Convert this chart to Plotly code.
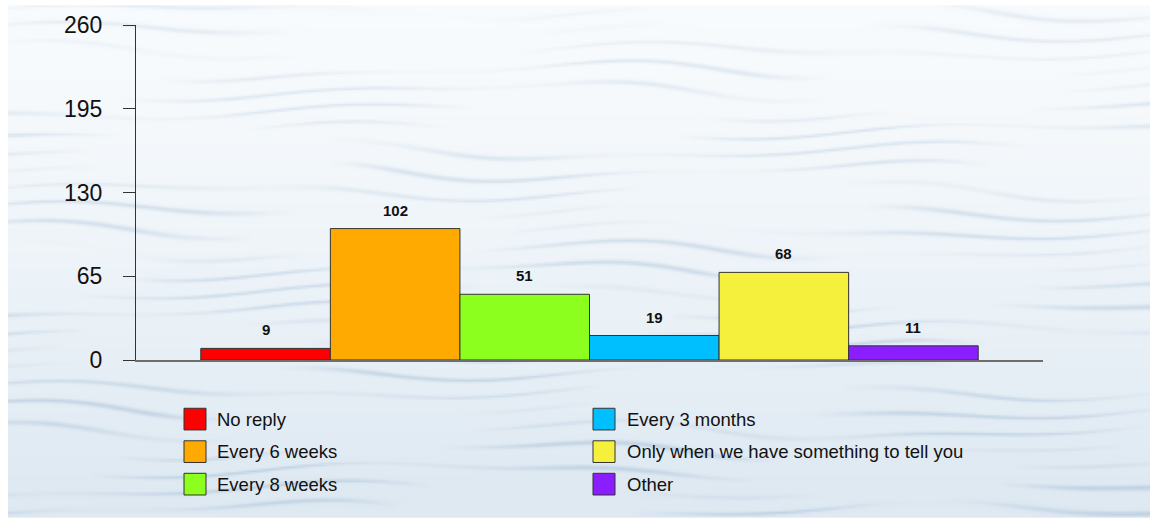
import base64
import struct
import zlib

import numpy as np
import plotly.graph_objects as go

# Survey answers: how often people want to hear from us
categories = ["No reply", "Every 6 weeks", "Every 8 weeks", "Every 3 months",
              "Only when we have something to tell you", "Other"]
counts = [9, 102, 51, 19, 68, 11]
colors = ["#FF0000", "#FFAA00", "#8CFF1E", "#00BFFF", "#F5F03C", "#8B1EFF"]
y_ticks = [0, 65, 130, 195, 260]

W, H = 1150, 523
M_L, M_R, M_T, M_B = 136, 107, 20, 163
PW, PH = W - M_L - M_R, H - M_T - M_B
FONT = "Arial, Liberation Sans, sans-serif"


def px_x(p):
    """Pixel column -> paper x."""
    return (p - M_L) / PW


def px_y(p):
    """Pixel row -> paper y."""
    return (H - M_B - p) / PH


def png_data_uri(rgb):
    h, w, _ = rgb.shape
    raw = b"".join(b"\x00" + rgb[r].tobytes() for r in range(h))

    def chunk(tag, data):
        return (struct.pack(">I", len(data)) + tag + data
                + struct.pack(">I", zlib.crc32(tag + data) & 0xFFFFFFFF))

    png = (b"\x89PNG\r\n\x1a\n"
           + chunk(b"IHDR", struct.pack(">IIBBBBB", w, h, 8, 2, 0, 0, 0))
           + chunk(b"IDAT", zlib.compress(raw, 9))
           + chunk(b"IEND", b""))
    return "data:image/png;base64," + base64.b64encode(png).decode()


# Pale water-like backdrop: light gradient with soft wavy horizontal streaks
tw, th = 571, 260
yy, xx = np.mgrid[0:th, 0:tw].astype(float)
t = yy / th
base_top = np.array([248, 251, 253], float)
base_bot = np.array([222, 233, 242], float)
ramp = np.clip(t * 1.1 - 0.05, 0, 1) ** 1.3
base = base_top * (1 - ramp[..., None]) + base_bot * ramp[..., None]
wave = np.sin(yy * 0.62 + 2.2 * np.sin(xx * 0.019 + yy * 0.07) + 1.1 * np.sin(xx * 0.043 + 0.8))
streak = np.clip(wave, 0, 1) ** 5
fade = np.clip((np.sin(xx * 0.012 + yy * 0.13) + np.sin(xx * 0.029 - yy * 0.06)) * 0.55 + 0.3, 0, 1)
amount = streak * fade * (0.35 + 0.65 * t)
streak_col = np.array([186, 205, 224], float)
a = (amount * 0.85)[..., None]
img = base * (1 - a) + streak_col * a
img = np.clip(img, 0, 255).astype(np.uint8)
bg_uri = png_data_uri(img)

fig = go.Figure()
for i, (name, val, col) in enumerate(zip(categories, counts, colors)):
    fig.add_trace(go.Bar(
        x=[i], y=[val], width=1, name=name,
        marker=dict(color=col, line=dict(color="#333333", width=1)),
        showlegend=False, hoverinfo="name+y",
    ))

annotations = []
for i, val in enumerate(counts):
    annotations.append(dict(
        x=i, y=val, xref="x", yref="y", text=f"<b>{val}</b>", showarrow=False,
        yanchor="bottom", yshift=8,
        font=dict(family=FONT, size=15, color="#111111"),
    ))

# Two-column legend drawn beneath the plot
shapes = []
legend_rows = [420, 453, 486]
legend_cols = [(184, 215), (593, 625)]
for k, (name, col) in enumerate(zip(categories, colors)):
    sx, tx = legend_cols[k // 3]
    cy = legend_rows[k % 3]
    shapes.append(dict(
        type="rect", xref="paper", yref="paper",
        x0=px_x(sx), x1=px_x(sx + 22), y0=px_y(cy + 11), y1=px_y(cy - 11),
        fillcolor=col, line=dict(color="#333333", width=1),
    ))
    annotations.append(dict(
        x=px_x(tx), y=px_y(cy), xref="paper", yref="paper", text=name,
        showarrow=False, xanchor="left", yanchor="middle",
        font=dict(family=FONT, size=18.5, color="#111111"),
    ))

fig.update_layout(
    width=W, height=H,
    margin=dict(l=M_L, r=M_R, t=M_T, b=M_B, pad=0),
    paper_bgcolor="white",
    plot_bgcolor="rgba(0,0,0,0)",
    barmode="overlay",
    showlegend=False,
    annotations=annotations,
    shapes=shapes,
    images=[dict(
        source=bg_uri, xref="paper", yref="paper",
        x=px_x(8), y=px_y(0), sizex=(W - 6) / PW, sizey=520 / PH,
        xanchor="left", yanchor="top", sizing="stretch", layer="below",
    )],
    xaxis=dict(
        range=[-1, 6], showticklabels=False, ticks="", showgrid=False,
        zeroline=False, showline=True, linecolor="#6E6E6E", linewidth=1.5,
        fixedrange=True,
    ),
    yaxis=dict(
        range=[0, 260], tickvals=y_ticks, ticktext=[str(v) for v in y_ticks],
        ticks="outside", ticklen=12, tickcolor="#333333", tickwidth=1,
        ticklabelstandoff=16,
        showgrid=False, zeroline=False, showline=True, linecolor="#333333",
        linewidth=1,
        tickfont=dict(family=FONT, size=23, color="#111111"),
        fixedrange=True,
    ),
)

fig.write_html("out.html")
